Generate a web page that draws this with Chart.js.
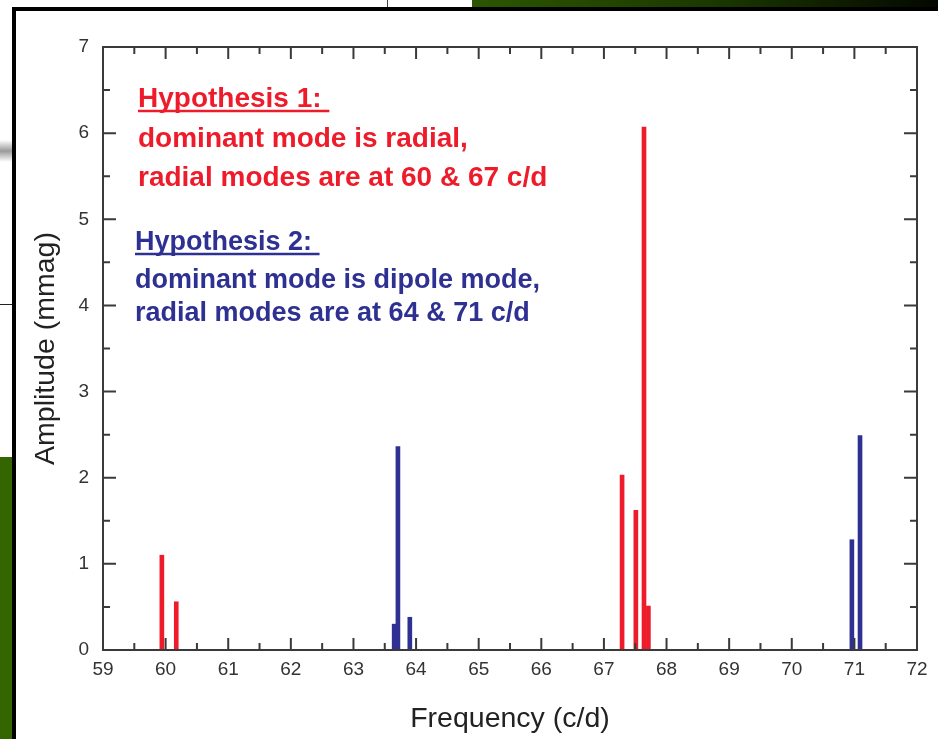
<!DOCTYPE html>
<html>
<head>
<meta charset="utf-8">
<title>Amplitude spectrum</title>
<script src="https://cdn.jsdelivr.net/npm/chart.js@4.4.1/dist/chart.umd.min.js"></script>
<style>
  body { margin: 0; background: #fff; }
  #page { position: relative; width: 938px; height: 739px; overflow: hidden; background: #fff; }
  .topBand { position: absolute; left: 472px; top: 0; width: 466px; height: 7px; background: linear-gradient(to right, #2c5600, #1c3a00 50%, #040800); }
  .topLine { position: absolute; left: 387px; top: 0; width: 1px; height: 8px; background: #444; }
  .frame { position: absolute; left: 12px; top: 7px; width: 950px; height: 760px; border: 4px solid #000; background: #fff; }
  .greenSide { position: absolute; left: 0; top: 457px; width: 12px; height: 282px; background: #336600; }
  .smear { position: absolute; left: 0; top: 140px; width: 12px; height: 22px; background: linear-gradient(#fff, #9a9a9a 50%, #fff); }
  .sideLine { position: absolute; left: 0; top: 304px; width: 12px; height: 1px; background: #222; }
  canvas { position: absolute; left: 0; top: 0; }
</style>
</head>
<body>
<div id="page">
  <div class="topBand"></div>
  <div class="topLine"></div>
  <div class="greenSide"></div>
  <div class="smear"></div>
  <div class="sideLine"></div>
  <div class="frame"></div>
  <canvas id="myChart" width="938" height="739"></canvas>
</div>
<script>
// Hypothesis 1 (red) peaks
const redFreq = [59.94, 60.17, 67.29, 67.51, 67.64, 67.71];
const redAmp = [1.10, 0.56, 2.03, 1.62, 6.07, 0.51];

// Hypothesis 2 (blue) peaks
const blueFreq = [63.65, 63.71, 63.90, 70.96, 71.09];
const blueAmp = [0.30, 2.36, 0.38, 1.28, 2.49];

const xLabel = "Frequency (c/d)";
const yLabel = "Amplitude (mmag)";

const redText = ["Hypothesis 1:", "dominant mode is radial,", "radial modes are at 60 & 67 c/d"];
const blueText = ["Hypothesis 2:", "dominant mode is dipole mode,", "radial modes are at 64 & 71 c/d"];

const red = "#ee1c2a";
const blue = "#2e3192";
const axisColor = "#3a3a3a";
const fontFamily = "'Liberation Sans', Arial, Helvetica, sans-serif";

function toPoints(xs, ys) {
    return xs.map((x, i) => ({ x: x, y: ys[i] }));
}

// frame + inward ticks on all four sides
const frameTicks = {
    id: "frameTicks",
    afterDraw(chart) {
        const ctx = chart.ctx;
        const a = chart.chartArea;
        const sx = chart.scales.x;
        const sy = chart.scales.y;
        ctx.save();
        ctx.strokeStyle = axisColor;
        ctx.lineWidth = 2;
        ctx.strokeRect(a.left, a.top, a.right - a.left, a.bottom - a.top);

        ctx.beginPath();
        sx.ticks.forEach((t, i) => {
            const px = sx.getPixelForValue(t.value);
            ctx.moveTo(px, a.bottom); ctx.lineTo(px, a.bottom - 12);
            ctx.moveTo(px, a.top); ctx.lineTo(px, a.top + 12);
            if (i < sx.ticks.length - 1) {
                const mx = sx.getPixelForValue(t.value + 0.5);
                ctx.moveTo(mx, a.bottom); ctx.lineTo(mx, a.bottom - 7);
                ctx.moveTo(mx, a.top); ctx.lineTo(mx, a.top + 7);
            }
        });
        sy.ticks.forEach((t, i) => {
            const py = sy.getPixelForValue(t.value);
            ctx.moveTo(a.left, py); ctx.lineTo(a.left + 13, py);
            ctx.moveTo(a.right, py); ctx.lineTo(a.right - 13, py);
            if (i < sy.ticks.length - 1) {
                const my = sy.getPixelForValue(t.value + 0.5);
                ctx.moveTo(a.left, my); ctx.lineTo(a.left + 7, my);
                ctx.moveTo(a.right, my); ctx.lineTo(a.right - 7, my);
            }
        });
        ctx.stroke();
        ctx.restore();
    }
};

function drawBlock(ctx, lines, x, baselines, color, size) {
    ctx.fillStyle = color;
    ctx.strokeStyle = color;
    ctx.font = "bold " + size + "px " + fontFamily;
    ctx.textAlign = "left";
    ctx.textBaseline = "alphabetic";
    lines.forEach((line, i) => {
        ctx.fillText(line, x, baselines[i]);
    });
    // underline the heading
    const w = ctx.measureText(lines[0] + " ").width;
    ctx.lineWidth = 2.5;
    ctx.beginPath();
    ctx.moveTo(x, baselines[0] + 4);
    ctx.lineTo(x + w, baselines[0] + 4);
    ctx.stroke();
}

const notes = {
    id: "notes",
    afterDraw(chart) {
        const ctx = chart.ctx;
        const a = chart.chartArea;
        ctx.save();
        drawBlock(ctx, redText, a.left + 35, [a.top + 60, a.top + 100, a.top + 139], red, 28);
        drawBlock(ctx, blueText, a.left + 32, [a.top + 203, a.top + 241, a.top + 274], blue, 27);
        ctx.restore();
    }
};

let myChart;
function generateChart() {
    const chartData = {
        datasets: [{
            label: "Hypothesis 1",
            data: toPoints(redFreq, redAmp),
            backgroundColor: red,
            barThickness: 4,
            grouped: false
        }, {
            label: "Hypothesis 2",
            data: toPoints(blueFreq, blueAmp),
            backgroundColor: blue,
            barThickness: 4,
            grouped: false
        }]
    };

    const chartOptions = {
        responsive: false,
        animation: false,
        layout: { padding: { left: 0, right: 21, top: 47, bottom: 0 } },
        plugins: {
            legend: { display: false },
            tooltip: { enabled: false }
        },
        scales: {
            x: {
                type: "linear",
                min: 59,
                max: 72,
                offset: false,
                ticks: { stepSize: 1, color: "#333", font: { size: 19, family: fontFamily }, padding: 8, maxRotation: 0, autoSkip: false },
                grid: { display: false, drawTicks: false },
                border: { display: false },
                title: { display: true, text: xLabel, color: "#222", font: { size: 28.5, family: fontFamily, lineHeight: 1 }, padding: { top: 0, bottom: 6 } },
                afterFit: s => { s.height = 89; }
            },
            y: {
                min: 0,
                max: 7,
                ticks: { stepSize: 1, color: "#333", font: { size: 19, family: fontFamily }, padding: 14 },
                grid: { display: false, drawTicks: false },
                border: { display: false },
                title: { display: true, text: yLabel, color: "#222", font: { size: 28.5, family: fontFamily, lineHeight: 1 }, padding: { top: 32, bottom: 0 } },
                afterFit: s => { s.width = 103; }
            }
        }
    };

    if (myChart) {
        myChart.destroy();
    }
    const ctx = document.getElementById("myChart").getContext("2d");
    myChart = new Chart(ctx, {
        type: "bar",
        data: chartData,
        options: chartOptions,
        plugins: [frameTicks, notes]
    });
}

generateChart();
</script>
</body>
</html>
